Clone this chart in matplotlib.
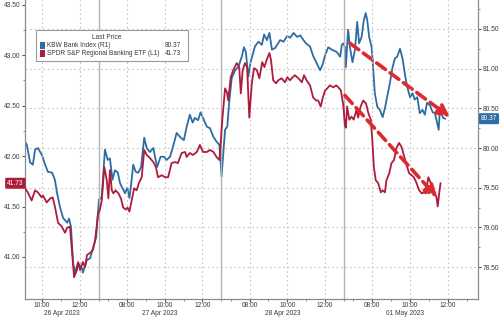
#!/usr/bin/env python3
# KBW Bank Index vs SPDR S&P Regional Banking ETF, intraday, 26 Apr - 01 May 2023
import matplotlib
matplotlib.use('Agg')
import matplotlib.pyplot as plt
import matplotlib.transforms as mtransforms
from matplotlib.patches import Rectangle

plt.rcParams['font.family'] = ['Liberation Sans', 'DejaVu Sans']

days = ["04-26", "04-27", "04-28", "05-01"]
day_labels = ["26 Apr 2023", "27 Apr 2023", "28 Apr 2023", "01 May 2023"]
open_hour, session_len = 6.5, 6.5   # 06:30 - 13:00 local

# KBW Bank Index (right axis, R1)
kbw_time = [
    "04-26 09:06", "04-26 09:12", "04-26 09:22", "04-26 09:31", "04-26 09:38", "04-26 09:47",
    "04-26 10:00", "04-26 10:10", "04-26 10:19", "04-26 10:32", "04-26 10:41", "04-26 10:48",
    "04-26 10:57", "04-26 11:07", "04-26 11:20", "04-26 11:26", "04-26 11:32", "04-26 11:39",
    "04-26 11:45", "04-26 11:54", "04-26 12:07", "04-26 12:10", "04-26 12:23", "04-26 12:33",
    "04-26 12:42", "04-26 12:52", "04-26 12:58",
    "04-27 06:31", "04-27 06:40", "04-27 06:50", "04-27 06:59", "04-27 07:06", "04-27 07:14",
    "04-27 07:22", "04-27 07:31", "04-27 07:38", "04-27 07:45", "04-27 07:54", "04-27 08:01",
    "04-27 08:08", "04-27 08:15", "04-27 08:20", "04-27 08:28", "04-27 08:36", "04-27 08:45",
    "04-27 08:55", "04-27 09:03", "04-27 09:13", "04-27 09:24", "04-27 09:36", "04-27 09:47",
    "04-27 09:58", "04-27 10:06", "04-27 10:17", "04-27 10:26", "04-27 10:38", "04-27 10:51",
    "04-27 11:01", "04-27 11:10", "04-27 11:20", "04-27 11:29", "04-27 11:36", "04-27 11:46",
    "04-27 11:54", "04-27 12:05", "04-27 12:14", "04-27 12:24", "04-27 12:35", "04-27 12:45",
    "04-27 12:54",
    "04-28 06:31", "04-28 06:34", "04-28 06:42", "04-28 06:49", "04-28 06:55", "04-28 07:03",
    "04-28 07:14", "04-28 07:24", "04-28 07:35", "04-28 07:42", "04-28 07:48", "04-28 07:56",
    "04-28 08:03", "04-28 08:10", "04-28 08:17", "04-28 08:28", "04-28 08:39", "04-28 08:46",
    "04-28 08:55", "04-28 09:03", "04-28 09:11", "04-28 09:21", "04-28 09:37", "04-28 09:48",
    "04-28 09:59", "04-28 10:09", "04-28 10:20", "04-28 10:31", "04-28 10:41", "04-28 10:51",
    "04-28 10:59", "04-28 11:12", "04-28 11:22", "04-28 11:33", "04-28 11:44", "04-28 11:52",
    "04-28 12:00", "04-28 12:10", "04-28 12:21", "04-28 12:37", "04-28 12:48", "04-28 12:53",
    "04-28 12:58",
    "05-01 06:33", "05-01 06:36", "05-01 06:43", "05-01 06:49", "05-01 06:57", "05-01 07:05",
    "05-01 07:12", "05-01 07:18", "05-01 07:26", "05-01 07:33", "05-01 07:39", "05-01 07:44",
    "05-01 07:50", "05-01 07:58", "05-01 08:03", "05-01 08:08", "05-01 08:16", "05-01 08:24",
    "05-01 08:33", "05-01 08:40", "05-01 08:47", "05-01 08:56", "05-01 09:04", "05-01 09:12",
    "05-01 09:19", "05-01 09:28", "05-01 09:36", "05-01 09:44", "05-01 09:51", "05-01 10:00",
    "05-01 10:08", "05-01 10:15", "05-01 10:23", "05-01 10:31", "05-01 10:40", "05-01 10:47",
    "05-01 10:54", "05-01 11:03", "05-01 11:12", "05-01 11:19", "05-01 11:26", "05-01 11:31",
    "05-01 11:35", "05-01 11:40", "05-01 11:45", "05-01 11:51",
]
kbw_vals = [
    80.08, 80.04, 79.82, 79.79, 79.98, 80.00,
    79.91, 79.79, 79.70, 79.69, 79.60, 79.43,
    79.26, 79.12, 79.06, 79.11, 79.01, 78.55,
    78.43, 78.55, 78.49, 78.43, 78.59, 78.61,
    78.74, 78.87, 79.20,
    79.35, 79.38, 79.98, 79.85, 79.87, 79.60,
    79.72, 79.69, 79.56, 79.50, 79.43, 79.50,
    79.37, 79.60, 79.79, 79.70, 79.69, 79.76,
    80.13, 80.00, 79.95, 80.00, 79.76, 79.89,
    79.89, 79.85, 79.89, 80.01, 80.19, 80.13,
    80.10, 80.27, 80.42, 80.32, 80.38, 80.35,
    80.45, 80.35, 80.27, 80.25, 80.14, 80.08,
    80.04,
    79.64, 79.81, 80.23, 80.27, 80.57, 80.88,
    80.98, 81.02, 81.15, 81.27, 81.21, 80.90,
    81.08, 81.18, 81.28, 81.34, 81.30, 81.43,
    81.36, 81.45, 81.24, 81.26, 81.36, 81.34,
    81.41, 81.39, 81.45, 81.40, 81.42, 81.36,
    81.32, 81.28, 81.16, 81.07, 80.98, 81.05,
    81.17, 81.27, 81.24, 81.21, 81.15, 81.30,
    81.32,
    81.27, 81.02, 81.49, 81.27, 81.08, 81.24,
    81.59, 81.32, 81.40, 81.61, 81.70, 81.61,
    81.40, 81.27, 80.98, 80.69, 80.52, 80.48,
    80.39, 80.50, 80.64, 80.82, 81.01, 81.13,
    81.15, 81.25, 81.13, 80.92, 80.77, 80.64,
    80.69, 80.61, 80.64, 80.44, 80.48, 80.42,
    80.57, 80.54, 80.45, 80.44, 80.32, 80.23,
    80.50, 80.44, 80.38, 80.37,
]

# SPDR S&P Regional Banking ETF (left axis, L1)
kre_time = [
    "04-26 09:06", "04-26 09:15", "04-26 09:27", "04-26 09:38", "04-26 09:47", "04-26 09:59",
    "04-26 10:03", "04-26 10:15", "04-26 10:26", "04-26 10:34", "04-26 10:41", "04-26 10:51",
    "04-26 11:03", "04-26 11:13", "04-26 11:20", "04-26 11:29", "04-26 11:35", "04-26 11:42",
    "04-26 11:51", "04-26 11:55", "04-26 12:01", "04-26 12:10", "04-26 12:17", "04-26 12:23",
    "04-26 12:33", "04-26 12:42", "04-26 12:49", "04-26 12:58",
    "04-27 06:34", "04-27 06:40", "04-27 06:48", "04-27 06:56", "04-27 07:01", "04-27 07:06",
    "04-27 07:12", "04-27 07:17", "04-27 07:24", "04-27 07:33", "04-27 07:41", "04-27 07:48",
    "04-27 07:56", "04-27 08:02", "04-27 08:08", "04-27 08:15", "04-27 08:23", "04-27 08:31",
    "04-27 08:38", "04-27 08:47", "04-27 08:55", "04-27 09:03", "04-27 09:13", "04-27 09:24",
    "04-27 09:32", "04-27 09:39", "04-27 09:51", "04-27 10:01", "04-27 10:11", "04-27 10:22",
    "04-27 10:33", "04-27 10:42", "04-27 10:54", "04-27 11:05", "04-27 11:10", "04-27 11:20",
    "04-27 11:30", "04-27 11:42", "04-27 11:52", "04-27 12:02", "04-27 12:14", "04-27 12:24",
    "04-27 12:35", "04-27 12:45", "04-27 12:54",
    "04-28 06:31", "04-28 06:34", "04-28 06:42", "04-28 06:48", "04-28 06:52", "04-28 07:00",
    "04-28 07:08", "04-28 07:19", "04-28 07:27", "04-28 07:32", "04-28 07:38", "04-28 07:45",
    "04-28 07:52", "04-28 07:59", "04-28 08:07", "04-28 08:14", "04-28 08:23", "04-28 08:31",
    "04-28 08:40", "04-28 08:47", "04-28 08:54", "04-28 09:03", "04-28 09:08", "04-28 09:15",
    "04-28 09:24", "04-28 09:31", "04-28 09:42", "04-28 09:52", "04-28 10:00", "04-28 10:08",
    "04-28 10:17", "04-28 10:24", "04-28 10:35", "04-28 10:46", "04-28 10:53", "04-28 11:01",
    "04-28 11:12", "04-28 11:22", "04-28 11:31", "04-28 11:38", "04-28 11:46", "04-28 11:52",
    "04-28 12:00", "04-28 12:07", "04-28 12:15", "04-28 12:26", "04-28 12:35", "04-28 12:42",
    "04-28 12:50", "04-28 12:58",
    "05-01 06:33", "05-01 06:36", "05-01 06:40", "05-01 06:47", "05-01 06:54", "05-01 07:01",
    "05-01 07:10", "05-01 07:15", "05-01 07:23", "05-01 07:31", "05-01 07:40", "05-01 07:47",
    "05-01 07:55", "05-01 08:00", "05-01 08:05", "05-01 08:11", "05-01 08:19", "05-01 08:27",
    "05-01 08:33", "05-01 08:40", "05-01 08:45", "05-01 08:54", "05-01 09:01", "05-01 09:09",
    "05-01 09:17", "05-01 09:25", "05-01 09:33", "05-01 09:40", "05-01 09:49", "05-01 09:57",
    "05-01 10:05", "05-01 10:12", "05-01 10:21", "05-01 10:29", "05-01 10:37", "05-01 10:44",
    "05-01 10:50", "05-01 10:58", "05-01 11:05", "05-01 11:13", "05-01 11:19", "05-01 11:24",
    "05-01 11:28", "05-01 11:33", "05-01 11:37",
]
kre_vals = [
    41.68, 41.64, 41.56, 41.66, 41.64, 41.59,
    41.61, 41.54, 41.58, 41.59, 41.50, 41.34,
    41.30, 41.24, 41.29, 41.30, 41.07, 40.80,
    40.87, 40.95, 40.87, 40.95, 40.90, 41.02,
    41.04, 41.07, 41.17, 41.42,
    41.47, 41.56, 41.89, 41.76, 41.58, 41.86,
    41.66, 41.63, 41.66, 41.63, 41.58, 41.49,
    41.47, 41.49, 41.45, 41.56, 41.68, 41.66,
    41.73, 41.79, 42.06, 42.01, 41.98, 41.94,
    41.89, 41.79, 41.81, 41.79, 41.79, 41.93,
    41.94, 41.93, 42.03, 42.04, 41.99, 42.03,
    42.01, 42.04, 42.11, 42.04, 42.04, 42.06,
    42.04, 41.99, 41.96,
    42.26, 42.39, 42.67, 42.63, 42.55, 42.78,
    42.85, 42.92, 42.88, 42.62, 42.85, 42.92,
    42.88, 42.38, 42.72, 42.87, 42.85, 42.77,
    42.93, 42.88, 42.95, 43.02, 42.95, 42.75,
    42.72, 42.75, 42.77, 42.73, 42.78, 42.75,
    42.78, 42.80, 42.77, 42.73, 42.80, 42.75,
    42.70, 42.58, 42.55, 42.55, 42.49, 42.57,
    42.65, 42.67, 42.70, 42.68, 42.70, 42.68,
    42.65, 42.50,
    42.30, 42.28, 42.49, 42.36, 42.39, 42.36,
    42.46, 42.38, 42.49, 42.55, 42.52, 42.43,
    42.36, 42.16, 41.89, 41.76, 41.73, 41.64,
    41.66, 41.64, 41.76, 41.83, 41.93, 41.96,
    42.08, 42.13, 42.09, 42.01, 41.91, 41.83,
    41.81, 41.79, 41.73, 41.66, 41.63, 41.64,
    41.63, 41.79, 41.74, 41.68, 41.63, 41.59,
    41.50, 41.64, 41.73,
]

# hand-drawn downtrend arrows (start, end)
kbw_trend_time = ["05-01 06:49", "05-01 12:07"]
kbw_trend_vals = [81.32, 80.39]
kre_trend_time = ["05-01 06:33", "05-01 11:26"]
kre_trend_vals = [42.60, 41.59]

left_ticks = [41.00, 41.50, 42.00, 42.50, 43.00, 43.50]
right_ticks = [78.50, 79.00, 79.50, 80.00, 80.50, 81.00, 81.50]


def sess(ts):
    # position on a compressed axis that only keeps trading hours
    d, t = ts.split()
    hh, mm = t.split(':')
    return days.index(d) * session_len + int(hh) + int(mm) / 60 - open_hour


BLUE = '#2f6ca3'
RED = '#ad1c3c'
ARROW = '#dd2a2e'
GRID = '#c4c4c4'
TXT = '#3a3a3a'
FS = 4.8

fig = plt.figure(figsize=(5, 3.17), dpi=100)
ax = fig.add_axes([25 / 500, 1 - 299 / 317, 453 / 500, 299 / 317])
ax2 = ax.twinx()
ax.set_zorder(ax2.get_zorder() + 1)
ax.patch.set_visible(False)

kx = [sess(t) for t in kbw_time]
rx = [sess(t) for t in kre_time]
ax2.plot(kx, kbw_vals, color=BLUE, lw=1.3, zorder=3)
ax.plot(rx, kre_vals, color=RED, lw=1.3, zorder=3)

xmin, xmax = 2.6, 26.6
ax.set_xlim(xmin, xmax)
ax.set_ylim(40.584, 43.545)
ax2.set_ylim(78.098, 81.865)

# x ticks: 2-hourly labels, hourly minor ticks
major, labels, minor = [], [], []
for i, d in enumerate(days):
    for h in range(7, 14):
        x = i * session_len + h - open_hour
        if xmin <= x <= xmax:
            if h % 2 == 0:
                major.append(x)
                labels.append(f"{h:02d}:00")
            else:
                minor.append(x)
ax.set_xticks(major)
ax.set_xticklabels(labels)
ax.set_xticks(minor, minor=True)
ax.grid(axis='x', which='major', ls=(0, (1.5, 2.5)), color=GRID, lw=0.8)
ax2.grid(axis='y', which='major', ls=(0, (1.5, 2.5)), color=GRID, lw=0.8)

# day separators and date labels
trans = mtransforms.blended_transform_factory(ax.transData, ax.transAxes)
for i, lab in enumerate(day_labels):
    start, end = i * session_len, (i + 1) * session_len
    if i > 0:
        ax.axvline(start, color='#b3b3b3', lw=1.0, zorder=1)
    mid = (max(start, xmin) + min(end, xmax)) / 2
    ax.text(mid, -0.054, lab, transform=trans, ha='center', va='baseline', fontsize=FS,
            color=TXT)

ax.set_yticks(left_ticks)
ax.set_yticklabels([f"{v:.2f}" for v in left_ticks])
ax.set_yticks([v + 0.25 for v in left_ticks[:-1]], minor=True)
ax2.set_yticks(right_ticks)
ax2.set_yticklabels([f"{v:.2f}" for v in right_ticks])
ax2.set_yticks([v + 0.25 for v in right_ticks], minor=True)

for a in (ax, ax2):
    a.tick_params(which='major', length=2.5, width=0.8, color='#555555', labelsize=FS,
                  labelcolor=TXT, pad=1.0)
    a.tick_params(which='minor', length=1.5, width=0.6, color='#777777')
    for s in a.spines.values():
        s.set_color('#8a8a8a')
        s.set_linewidth(0.8)
    a.spines['top'].set_visible(False)
ax.tick_params(axis='x', which='major', length=2.0, pad=0.4)

# trend arrows
for a, tt, vv in ((ax2, kbw_trend_time, kbw_trend_vals), (ax, kre_trend_time, kre_trend_vals)):
    a.annotate('', xy=(sess(tt[1]), vv[1]), xytext=(sess(tt[0]), vv[0]),
               arrowprops=dict(arrowstyle='-|>,head_length=0.7,head_width=0.35', lw=2.6,
                               ls=(0, (3, 1.6)), color=ARROW, shrinkA=0, shrinkB=0),
               zorder=5)

# last price tags at the axes edges
lt = mtransforms.blended_transform_factory(ax.transAxes, ax.transData)
ax.text(-0.003, kre_vals[-1], f"{kre_vals[-1]:.2f}", transform=lt, ha='right', va='center',
        fontsize=FS, color='white', clip_on=False,
        bbox=dict(boxstyle='round,pad=0.3,rounding_size=0.2', fc=RED, ec='none'))
rt = mtransforms.blended_transform_factory(ax2.transAxes, ax2.transData)
ax2.text(1.006, kbw_vals[-1], f"{kbw_vals[-1]:.2f}", transform=rt, ha='left', va='center',
         fontsize=FS, color='white', clip_on=False,
         bbox=dict(boxstyle='round,pad=0.3,rounding_size=0.2', fc=BLUE, ec='none'))

# legend box
lg = ax.transAxes
ax.add_patch(Rectangle((0.024, 0.796), 0.336, 0.104, transform=lg, fc='white',
                       ec='#9a9a9a', lw=0.8, zorder=6))
ax.text(0.180, 0.876, "Last Price", transform=lg, ha='center', va='center',
        fontsize=FS, color=TXT, zorder=7)
rows = [("KBW Bank Index (R1)", kbw_vals[-1], BLUE, 0.849),
        ("SPDR S&P Regional Banking ETF (L1)", kre_vals[-1], RED, 0.822)]
for name, last, c, yy in rows:
    ax.add_patch(Rectangle((0.033, yy - 0.012), 0.011, 0.024, transform=lg, fc=c,
                           ec='none', zorder=7))
    ax.text(0.049, yy, name, transform=lg, ha='left', va='center', fontsize=4.7,
            color=TXT, zorder=7)
    ax.text(0.344, yy, f"{last:.2f}", transform=lg, ha='right', va='center',
            fontsize=4.7, color=TXT, zorder=7)

fig.savefig('out.png', dpi=100)
